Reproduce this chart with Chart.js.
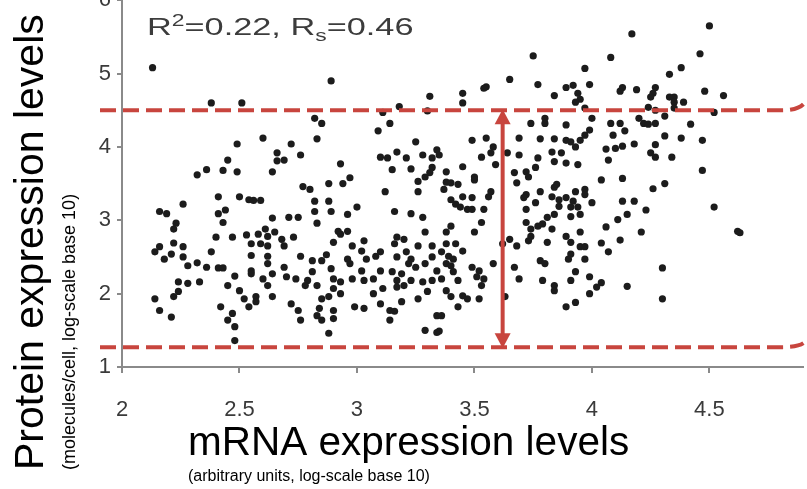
<!DOCTYPE html>
<html>
<head>
<meta charset="utf-8">
<script src="https://cdn.jsdelivr.net/npm/chart.js@4.4.1/dist/chart.umd.min.js"></script>
<style>
  html, body { margin: 0; padding: 0; background: #fff; }
  #wrap { position: relative; width: 807px; height: 489px; overflow: hidden; }
  #wrap canvas { position: absolute; left: 0; top: -19px; }
</style>
</head>
<body>
<div id="wrap"><canvas id="scatterChart" width="807" height="508"></canvas></div>
<script>
// [mRNA, protein] pairs, log10 units
const upperLeft = [
  [2.13,5.08],[2.38,4.60],[2.51,4.60],[2.60,4.12],[2.49,4.04],[2.45,3.82],[2.66,3.92],[2.66,3.81],
  [2.89,4.90],[3.31,4.69],[3.30,4.49],[3.18,4.55],[3.11,4.47],[3.14,4.32],[3.09,4.22],[2.82,4.39],
  [2.85,4.32],[2.83,4.11],[2.72,4.04],[2.76,3.89],[2.69,3.82],[2.93,3.77],[3.10,3.86],[3.13,3.85],
  [3.17,3.93],[3.21,3.85],[3.25,4.07],[3.28,3.89],[3.32,3.85],[3.34,3.96]
];
const upperMid = [
  [3.75,5.24],[3.97,5.07],[3.65,4.92],[3.55,4.82],[3.54,4.80],[3.45,4.73],[3.45,4.60],[3.77,4.85],
  [3.84,4.70],[3.89,4.81],[3.92,4.84],[3.99,4.85],[3.94,4.73],[3.95,4.65],[3.93,4.61],[3.97,4.53],
  [3.74,4.32],[3.80,4.39],[3.80,4.32],[3.89,4.30],[4.00,4.39],[3.99,4.23],[3.97,4.16],[3.49,4.09],
  [3.55,4.12],[3.69,4.12],[3.78,4.11],[3.84,4.11],[3.89,4.09],[3.91,4.07],[3.95,4.09],[3.93,4.00],
  [3.58,4.00],[3.57,3.92],[3.53,3.86],[3.64,3.92],[3.69,3.89],[3.77,3.85],[3.83,3.93],[3.87,3.92],
  [3.84,3.80],[3.89,3.78],[3.35,3.89],[3.59,3.76],[3.94,3.76]
];
const upperRight = [
  [4.50,5.65],[4.17,5.54],[4.08,5.22],[4.46,5.27],[4.38,5.08],[4.33,4.99],[4.12,4.76],[4.13,4.81],
  [4.19,4.78],[4.27,4.81],[4.26,4.73],[4.25,4.68],[4.33,4.68],[4.35,4.68],[4.35,4.61],[4.39,4.61],
  [4.48,4.76],[4.56,4.70],[4.24,4.54],[4.27,4.50],[4.35,4.53],[4.52,4.47],[4.31,4.42],[4.08,4.32],
  [4.12,4.32],[4.20,4.39],[4.22,4.32],[4.24,4.31],[4.27,4.32],[4.42,4.31],[4.09,4.16],[4.14,4.22],
  [4.31,4.15],[4.38,4.12],[4.47,4.09],[4.06,3.97],[4.10,3.98],[4.13,4.01],[4.18,4.04],[4.27,4.03],
  [4.25,3.92],[4.27,3.86],[4.34,3.86],[4.07,3.82]
];
const lowerRight = [
  [4.47,3.68],[4.04,3.55],[4.13,3.57],[4.26,3.43],[4.31,3.50],[4.13,3.26],[4.18,3.26],[4.23,3.14],
  [4.15,3.08],[4.11,3.01],[4.52,3.18],[4.06,2.91],[4.21,2.84],[4.62,2.85],[4.63,2.83],[4.04,2.69],
  [4.12,2.73],[4.07,2.57],[4.30,2.35],[4.04,2.15],[4.15,2.10],[4.30,1.93]
];
const midLeftOfArrow = [
  [3.38,3.66],[3.45,3.73],[3.50,3.59],[3.50,3.55],[3.38,3.52],[3.40,3.51],[3.43,3.49],[3.37,3.42],
  [3.45,3.32],[3.49,3.31],[3.56,3.32],[3.57,3.39],[3.40,3.28],[3.42,3.22],[3.44,3.18],[3.47,3.15],
  [3.49,3.15],[3.54,3.15],[3.53,2.97],[3.40,2.92],[3.38,2.84],[3.50,2.84],[3.38,2.68],[3.42,2.68],
  [3.45,2.58],[3.36,2.57],[3.39,2.51],[3.41,2.47],[3.38,2.41],[3.40,2.38],[3.41,2.30],[3.49,2.36],
  [3.52,2.31],[3.51,2.23],[3.54,2.20],[3.58,2.41],[3.43,2.18],[3.36,2.20]
];
const midRightOfArrow = [
  [3.67,3.65],[3.72,3.66],[3.73,3.59],[3.76,3.72],[3.68,3.51],[3.78,3.39],[3.72,3.35],[3.71,3.31],
  [3.76,3.24],[3.84,3.45],[3.85,3.49],[3.83,3.32],[3.86,3.28],[3.86,3.19],[3.84,3.08],[3.81,3.04],
  [3.89,3.31],[3.92,3.26],[3.91,3.18],[3.94,3.18],[3.95,3.08],[3.91,3.05],[3.93,3.39],[3.97,3.42],
  [3.97,3.35],[4.00,3.24],[3.72,3.15],[3.72,2.97],[3.74,2.88],[3.77,2.92],[3.79,2.95],[3.83,2.88],
  [3.74,2.78],[3.73,2.72],[3.65,2.74],[3.62,2.68],[3.68,2.65],[3.81,2.70],[3.89,2.78],[3.91,2.70],
  [3.95,2.84],[3.95,2.64],[3.97,2.64],[3.91,2.54],[3.90,2.47],[3.97,2.47],[3.67,2.36],[3.78,2.45],
  [3.80,2.41],[3.93,2.30],[3.69,2.20],[3.79,2.18],[3.91,2.18],[3.99,2.23],[3.84,2.11]
];
const lowerLeft = [
  [2.32,3.62],[2.36,3.69],[2.43,3.68],[2.49,3.66],[2.64,3.66],[2.41,3.32],[2.50,3.32],[2.54,3.28],
  [2.56,3.27],[2.59,3.27],[2.26,3.22],[2.16,3.12],[2.19,3.09],[2.41,3.09],[2.44,3.14],[2.43,2.97],
  [2.64,3.03],[2.23,2.96],[2.22,2.88],[2.40,2.77],[2.47,2.77],[2.53,2.80],[2.58,2.81],[2.61,2.88],
  [2.62,2.78],[2.65,2.84],[2.22,2.69],[2.26,2.64],[2.16,2.64],[2.14,2.57],[2.18,2.47],[2.21,2.54],
  [2.26,2.50],[2.28,2.38],[2.32,2.42],[2.36,2.36],[2.41,2.35],[2.43,2.35],[2.38,2.57],[2.55,2.68],
  [2.59,2.68],[2.62,2.65],[2.55,2.52],[2.62,2.51],[2.62,2.41],[2.55,2.31],[2.55,2.27],[2.48,2.24],
  [2.60,2.20],[2.64,2.27],[2.24,2.16],[2.28,2.14],[2.33,2.16],[2.45,2.11],
  [2.14,1.93],[2.16,1.77],[2.21,1.68],[2.22,1.96],[2.24,2.03],[2.42,1.82],[2.47,1.73],[2.45,1.64],
  [2.48,1.55],[2.48,1.36],[2.50,2.04],[2.52,1.93],[2.54,1.82],[2.57,1.96],[2.57,1.89],[2.62,2.11],
  [2.64,1.96]
];
const lowerMid = [
  [3.15,3.69],[3.23,3.70],[3.29,3.59],[3.31,3.65],[3.32,3.72],[3.26,3.53],[3.26,3.39],[3.12,3.39],
  [2.77,3.46],[2.80,3.42],[2.88,3.50],[2.94,3.50],[2.97,3.58],[2.82,3.26],[2.88,3.26],[2.82,3.12],
  [2.89,3.12],[3.00,3.18],[2.96,3.08],[3.16,3.12],[3.23,3.09],[3.28,3.04],[2.71,3.04],[2.75,3.04],
  [2.83,2.96],[2.92,2.85],[2.93,2.81],[2.96,2.85],[2.73,2.77],[3.29,2.84],[3.17,2.77],[3.20,2.74],
  [3.16,2.68],[3.03,2.72],[2.90,2.70],[2.98,2.65],[2.69,2.65],[2.68,2.74],[3.02,2.58],[3.10,2.57],
  [3.08,2.51],[2.87,2.53],[2.76,2.51],[3.21,2.57],[3.26,2.65],[3.32,2.65],[3.17,2.50],[2.81,2.45],
  [2.85,2.45],[2.96,2.47],[2.97,2.41],[3.04,2.47],[3.23,2.47],[3.22,2.41],[3.25,2.36],[3.29,2.41],
  [3.32,2.50],[3.34,2.31],[2.69,2.36],[2.89,2.34],[2.81,2.30],[3.02,2.31],[3.10,2.31],[3.15,2.30],
  [3.19,2.27],[2.70,2.23],[2.74,2.20],[2.79,2.18],[2.90,2.20],[2.93,2.16],[2.98,2.20],[3.03,2.18],
  [3.07,2.20],[3.17,2.18],[3.23,2.18],[3.28,2.16],[3.32,2.18],[2.83,2.11],
  [2.72,1.86],[2.75,1.77],[2.76,1.64],[2.78,2.11],[2.85,1.93],[2.88,1.96],[2.90,2.07],[2.93,2.00],
  [2.84,1.80],[2.83,1.70],[2.85,1.64],[2.90,1.77],[2.90,1.66],[2.88,1.46],[2.99,1.82],[3.03,1.80],
  [3.07,2.00],[3.11,2.07],[3.10,1.86],[3.14,1.77],[3.16,1.76],[3.14,1.64],[3.19,1.89],[3.17,2.09],
  [3.20,2.11],[3.26,1.93],[3.30,2.03],[3.34,1.70],[3.29,1.50],[3.34,1.47],
  [3.38,2.04],[3.40,1.96],[3.43,1.82],[3.45,1.97],[3.47,1.93],[3.52,1.93],[3.53,2.11],[3.36,1.70],
  [3.35,1.49],[3.63,1.96],[3.84,2.04],[3.89,1.82],[3.93,1.88],[3.99,2.00],[4.02,2.09]
];

const xTicks = [2, 2.5, 3, 3.5, 4, 4.5];
const yTicks = [1, 2, 3, 4, 5, 6];
const bandTop = 4.5;
const bandBottom = 1.27;
const arrowX = 3.62;

const red = '#c8453e';
const shift = 19; // canvas is moved up by this much to crop the top like the figure

const allPoints = [].concat(upperLeft, upperMid, upperRight, lowerRight,
  midLeftOfArrow, midRightOfArrow, lowerLeft, lowerMid)
  .map(p => ({ x: p[0], y: p[1] }));

function arrowHead(ctx, x, tipY, dir) {
  ctx.beginPath();
  ctx.moveTo(x, tipY);
  ctx.lineTo(x - 8, tipY + dir * 15);
  ctx.lineTo(x + 8, tipY + dir * 15);
  ctx.closePath();
  ctx.fill();
}

const overlay = {
  id: 'overlay',
  afterDatasetsDraw(chart) {
    const { ctx, chartArea, scales: { x, y } } = chart;
    ctx.save();
    ctx.strokeStyle = red;
    ctx.fillStyle = red;
    ctx.lineWidth = 4;
    ctx.setLineDash([16, 7]);
    [[bandTop, 6], [bandBottom, 4]].forEach(([v, curl]) => {
      const py = y.getPixelForValue(v);
      ctx.beginPath();
      ctx.moveTo(chartArea.left - 22, py);
      ctx.lineTo(chartArea.right - 22, py);
      ctx.quadraticCurveTo(chartArea.right - 6, py, chartArea.right, py - curl);
      ctx.stroke();
    });
    ctx.setLineDash([]);
    const ax = x.getPixelForValue(arrowX);
    const top = y.getPixelForValue(bandTop) - 1;
    const bot = y.getPixelForValue(bandBottom) + 1;
    ctx.beginPath();
    ctx.moveTo(ax, top + 12);
    ctx.lineTo(ax, bot - 12);
    ctx.stroke();
    arrowHead(ctx, ax, top, 1);
    arrowHead(ctx, ax, bot, -1);
    ctx.restore();
  },
  afterDraw(chart) {
    const ctx = chart.ctx;
    ctx.save();
    ctx.fillStyle = '#3c3c3c';
    // R² / Rs note, drawn a bit wide like the source figure
    ctx.translate(147, 35 + shift);
    ctx.scale(1.43, 1);
    let cx = 0;
    const part = (t, size, dy) => {
      ctx.font = size + 'px "Liberation Sans", Arial, sans-serif';
      ctx.fillText(t, cx, dy);
      cx += ctx.measureText(t).width;
    };
    part('R', 24, 0); part('2', 16, -9); part('=0.22, R', 24, 0);
    part('s', 16, 6); part('=0.46', 24, 0);
    ctx.restore();

    ctx.save();
    ctx.fillStyle = '#000';
    ctx.font = '40.5px "Liberation Sans", Arial, sans-serif';
    ctx.fillText('mRNA expression levels', 188, 455 + shift);
    ctx.font = '16px "Liberation Sans", Arial, sans-serif';
    ctx.fillText('(arbitrary units, log-scale base 10)', 188, 481 + shift);
    ctx.translate(0, 470 + shift);
    ctx.rotate(-Math.PI / 2);
    ctx.font = '41px "Liberation Sans", Arial, sans-serif';
    ctx.fillText('Protein expression levels', 0, 43);
    ctx.font = '18px "Liberation Sans", Arial, sans-serif';
    ctx.fillText('(molecules/cell, log-scale base 10)', 0, 75);
    ctx.restore();
  }
};

const axisFont = { family: '"Liberation Sans", Arial, sans-serif', size: 22 };

new Chart(document.getElementById('scatterChart'), {
  type: 'scatter',
  data: {
    datasets: [{
      label: 'genes',
      data: allPoints,
      pointRadius: 3.6,
      pointHoverRadius: 3.6,
      pointBorderWidth: 0,
      backgroundColor: '#1c1c1c'
    }]
  },
  options: {
    responsive: false,
    animation: false,
    devicePixelRatio: 1,
    layout: { padding: { top: 11, left: 0, right: 0, bottom: 0 } },
    plugins: { legend: { display: false }, tooltip: { enabled: false } },
    scales: {
      x: {
        type: 'linear',
        min: 2,
        max: 4.9,
        afterBuildTicks: s => { s.ticks = xTicks.map(v => ({ value: v })); },
        afterFit: s => { s.height = 122; },
        ticks: { font: axisFont, color: '#3a3a3a', padding: 24, maxRotation: 0, callback: v => String(v) },
        grid: { drawOnChartArea: false, tickLength: 6, color: '#8a8a8a', lineWidth: 2 },
        border: { color: '#8a8a8a', width: 2 }
      },
      y: {
        type: 'linear',
        min: 1,
        max: 6,
        afterBuildTicks: s => { s.ticks = yTicks.map(v => ({ value: v })); },
        afterFit: s => { s.width = 122; },
        ticks: { font: axisFont, color: '#3a3a3a', padding: 6, callback: v => String(v) },
        grid: { drawOnChartArea: false, tickLength: 5, color: '#8a8a8a', lineWidth: 2 },
        border: { color: '#8a8a8a', width: 2 }
      }
    }
  },
  plugins: [overlay]
});
</script>
</body>
</html>
